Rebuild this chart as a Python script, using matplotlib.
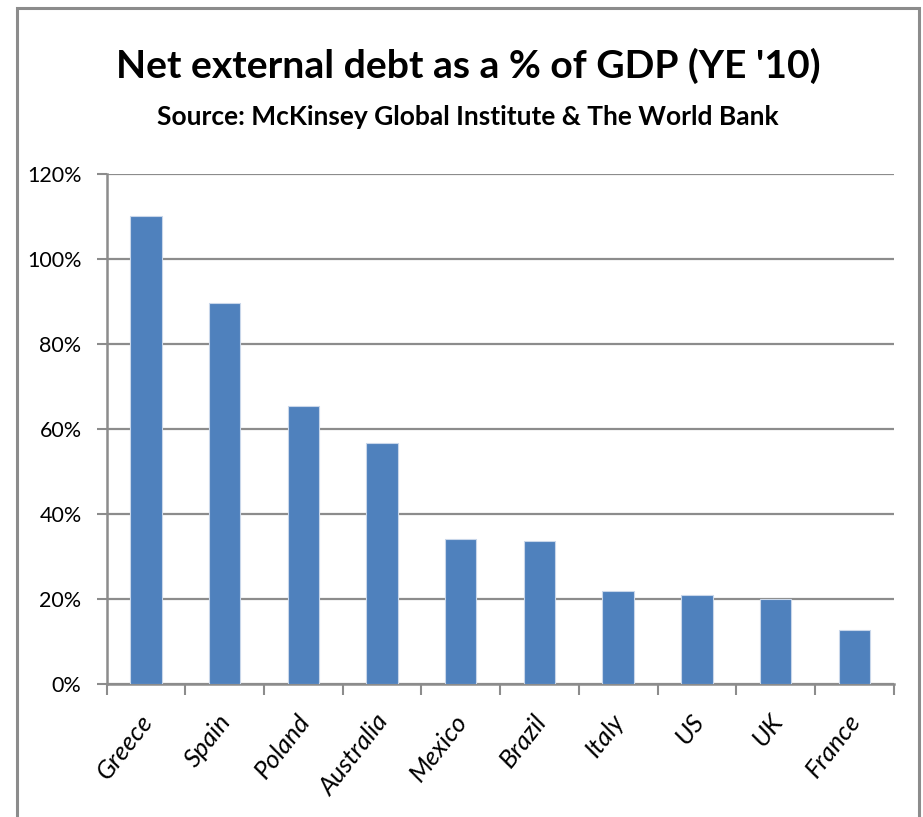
import matplotlib
matplotlib.use("Agg")
import matplotlib.pyplot as plt
from matplotlib.patches import Rectangle
from matplotlib.ticker import FixedLocator, PercentFormatter
import numpy as np

countries = ["Greece", "Spain", "Poland", "Australia", "Mexico",
             "Brazil", "Italy", "US", "UK", "France"]
debt_pct = [110.0, 89.6, 65.5, 56.7, 34.2, 33.6, 22.0, 20.9, 19.9, 12.6]
y_ticks = [0, 20, 40, 60, 80, 100, 120]

title = "Net external debt as a % of GDP (YE '10)"
subtitle = "Source: McKinsey Global Institute & The World Bank"

W, H = 923, 817
fig = plt.figure(figsize=(W / 100, H / 100), dpi=100)
fig.patch.set_facecolor("white")

# outer chart frame
fig.patches.append(Rectangle((16.5 / W, -0.02), (919 - 16.5) / W, 1.02 - 8 / H,
                             transform=fig.transFigure, fill=False,
                             edgecolor="#8c8c8c", linewidth=2.2, zorder=0))

font = ["Lato", "DejaVu Sans"]

fig.text(468 / W, 1 - 66 / H, title, ha="center", va="center",
         fontsize=28.2, fontweight="bold", family=font)
fig.text(468 / W, 1 - 117 / H, subtitle, ha="center", va="center",
         fontsize=19, fontweight="bold", family=font)

ax = fig.add_axes([106.6 / W, 133 / H, (893.6 - 106.6) / W, (684 - 174) / H])
x = np.arange(len(countries))
ax.bar(x, debt_pct, width=0.4, color="#4F81BD", edgecolor="#c9d7ea",
       linewidth=0.8, zorder=3)

ax.set_xlim(-0.5, len(countries) - 0.5)
ax.set_ylim(0, 120)
ax.yaxis.set_major_locator(FixedLocator(y_ticks))
ax.yaxis.set_major_formatter(PercentFormatter(decimals=0))
ax.grid(axis="y", color="#8c8c8c", linewidth=1.6, zorder=1)
ax.set_axisbelow(True)

for side in ("top", "right"):
    ax.spines[side].set_visible(False)
for side in ("left", "bottom"):
    ax.spines[side].set_color("#8c8c8c")
    ax.spines[side].set_linewidth(1.8)

# category ticks sit between bars, labels centered on bars
ax.set_xticks(np.arange(-0.5, len(countries)))
ax.set_xticklabels([])
ax.tick_params(axis="x", direction="out", length=8, width=1.5, color="#8c8c8c")
ax.tick_params(axis="y", direction="out", length=7, width=1.5, color="#8c8c8c",
               labelsize=15.5, pad=11)
for lbl in ax.get_yticklabels():
    lbl.set_family(font)

for xi, name in zip(x, countries):
    ax.annotate(name, xy=(xi, 0), xycoords=("data", "axes fraction"),
                xytext=(2, -33), textcoords="offset pixels",
                rotation=52, rotation_mode="anchor", ha="right", va="center",
                fontsize=18.5, style="italic", family=font)

fig.savefig("out.png", dpi=100)
